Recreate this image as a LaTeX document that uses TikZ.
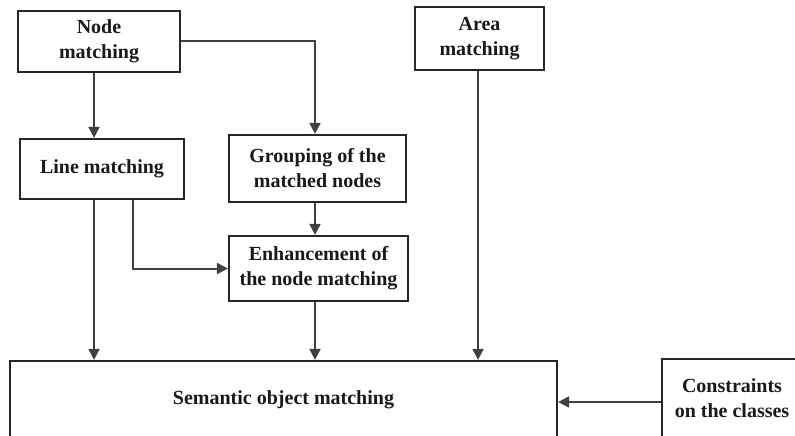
\documentclass[tikz,border=0pt]{standalone}
\usepackage{fontspec}
\setmainfont{Liberation Serif}
\usetikzlibrary{arrows.meta}
\begin{document}
\begin{tikzpicture}[x=1pt,y=-1pt,
  box/.style={draw=black!85, line width=2.2pt, rectangle, align=center, inner sep=0pt,
    font=\fontsize{20}{25}\selectfont\bfseries, text=black!90},
  arr/.style={draw=black!75, line width=2pt, -{Triangle[length=11pt,width=11pt]}}]
\useasboundingbox (0,0) rectangle (795,436);
\clip (0,0) rectangle (795,436);
\node[box, minimum width=162pt, minimum height=61pt] (nm) at (99,41.5) {Node\\matching};
\node[box, minimum width=164pt, minimum height=60pt] (lm) at (102,169) {Line matching};
\node[box, minimum width=177pt, minimum height=67pt] (gr) at (317.5,168.5) {Grouping of the\\matched nodes};
\node[box, minimum width=179pt, minimum height=65pt] (en) at (318.5,268.5) {Enhancement of\\the node matching};
\node[box, minimum width=129pt, minimum height=63pt] (am) at (479.5,38.5) {Area\\matching};
\node[box, minimum width=547pt, minimum height=77pt] (sm) at (283.5,399.5) {Semantic object matching};
\node[box, minimum width=140pt, minimum height=78pt] (cc) at (732,398) {Constraints\\on the classes};
\draw[arr] ([xshift=-5pt]nm.south) -- ([xshift=-5pt]nm.south |- lm.north);
\draw[arr] (nm.east) -| ([xshift=-2.5pt]gr.north);
\draw[arr] ([xshift=-8pt]lm.south) -- ([xshift=-8pt]lm.south |- sm.north);
\draw[arr] ([xshift=31pt]lm.south) |- (en.west);
\draw[arr] ([xshift=-2.5pt]gr.south) -- ([xshift=-2.5pt]gr.south |- en.north);
\draw[arr] ([xshift=-3.5pt]en.south) -- ([xshift=-3.5pt]en.south |- sm.north);
\draw[arr] ([xshift=-1.5pt]am.south) -- ([xshift=-1.5pt]am.south |- sm.north);
\draw[arr] ([yshift=-4pt]cc.west) -- ([yshift=-4pt]cc.west -| sm.east);
\end{tikzpicture}
\end{document}
